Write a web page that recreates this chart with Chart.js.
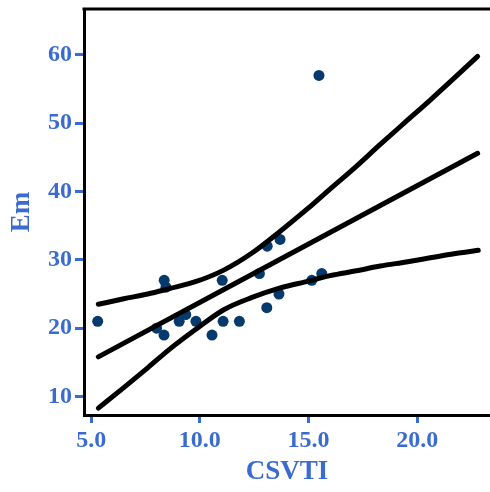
<!DOCTYPE html>
<html>
<head>
<meta charset="utf-8">
<script src="https://cdn.jsdelivr.net/npm/chart.js@4"></script>
<style>
  html, body { margin: 0; padding: 0; background: #fff; }
  #wrap { width: 490px; height: 492px; }
</style>
</head>
<body>
<div id="wrap"><canvas id="emChart" width="490" height="492"></canvas></div>
<script>
// Observed points (CSVTI vs Em)
const csvti = [5.30, 8.36, 8.44, 8.01, 8.35, 9.05, 9.35, 9.82, 10.56, 11.03, 11.07, 11.82, 12.74, 13.08, 13.10, 13.64, 13.69, 15.61, 15.15, 15.48];
const em    = [21,   27,   26,   20,   19,   21,   22,   21,   19,    27,    21,    21,    28,    23,    32,    25,    33,    28,    27,    57];

// Fitted line and confidence band
const fitX   = [5.33, 22.78];
const fitY   = [15.8, 45.6];
const upperX = [5.33, 6.5,  7.6,  8.6,  9.8,  11.1, 12.4, 13.7, 15.0, 16.0, 17.2, 18.3, 19.5, 20.6, 21.7, 22.78];
const upperY = [23.5, 24.3, 25.0, 25.8, 26.8, 28.5, 31.0, 34.2, 37.6, 40.4, 43.7, 46.9, 50.3, 53.4, 56.6, 59.8];
const lowerX = [5.33, 6.5,  7.6,  8.6,  9.8,  11.1, 12.4, 13.7, 15.0, 16.0, 17.2, 18.3, 19.5, 20.6, 21.7, 22.81];
const lowerY = [8.3,  11.3, 14.2, 16.9, 19.8, 22.7, 24.5, 25.9, 26.9, 27.7, 28.4, 29.1, 29.7, 30.3, 30.9, 31.4];

// Tick values
const xTicks = [5, 10, 15, 20];
const yTicks = [10, 20, 30, 40, 50, 60];

const blue = '#3a6bd0';
const fontFam = '"Liberation Serif", "Times New Roman", serif';

function pairs(xs, ys) {
    return xs.map((x, i) => ({ x: x, y: ys[i] }));
}

function lineSet(xs, ys) {
    return {
        type: 'line',
        data: pairs(xs, ys),
        borderColor: '#000',
        borderWidth: 5,
        borderCapStyle: 'round',
        borderJoinStyle: 'round',
        pointRadius: 0,
        cubicInterpolationMode: 'monotone',
        fill: false,
        order: 0
    };
}

// top line of the frame
const topFrame = {
    id: 'topFrame',
    afterDraw(chart) {
        const a = chart.chartArea;
        const c = chart.ctx;
        c.save();
        c.strokeStyle = '#000';
        c.lineWidth = 3;
        c.beginPath();
        c.moveTo(a.left - 1.5, a.top);
        c.lineTo(a.right, a.top);
        c.stroke();
        c.restore();
    }
};

new Chart(document.getElementById('emChart').getContext('2d'), {
    type: 'scatter',
    data: {
        datasets: [
            lineSet(upperX, upperY),
            lineSet(fitX, fitY),
            lineSet(lowerX, lowerY),
            {
                data: pairs(csvti, em),
                backgroundColor: '#063a6c',
                borderWidth: 0,
                pointRadius: 5.5,
                order: 1
            }
        ]
    },
    options: {
        responsive: false,
        animation: false,
        layout: { autoPadding: false, padding: { top: 9, right: 0, left: 0, bottom: 0 } },
        plugins: {
            legend: { display: false },
            tooltip: { enabled: false }
        },
        scales: {
            x: {
                type: 'linear',
                min: 4.67,
                max: 23.35,
                afterBuildTicks: s => { s.ticks = xTicks.map(v => ({ value: v })); },
                afterFit: s => { s.height = 77; s.paddingLeft = 0; s.paddingRight = 0; },
                ticks: {
                    color: blue,
                    padding: 3,
                    font: { family: fontFam, size: 24, weight: 'bold' },
                    callback: v => Number(v).toFixed(1)
                },
                grid: {
                    drawOnChartArea: false,
                    drawTicks: true,
                    tickLength: 8,
                    tickWidth: 3,
                    tickColor: blue
                },
                border: { display: true, color: '#000', width: 3 },
                title: {
                    display: true,
                    text: 'CSVTI',
                    color: blue,
                    padding: { top: 0, bottom: 4 },
                    font: { family: fontFam, size: 27, weight: 'bold' }
                }
            },
            y: {
                type: 'linear',
                min: 7.29,
                max: 66.73,
                afterBuildTicks: s => { s.ticks = yTicks.map(v => ({ value: v })); },
                afterFit: s => { s.width = 84; s.paddingTop = 0; s.paddingBottom = 0; },
                ticks: {
                    color: blue,
                    padding: 3,
                    font: { family: fontFam, size: 24, weight: 'bold' }
                },
                grid: {
                    drawOnChartArea: false,
                    drawTicks: true,
                    tickLength: 9,
                    tickWidth: 3,
                    tickColor: blue
                },
                border: { display: true, color: '#000', width: 3 },
                title: {
                    display: true,
                    text: 'Em',
                    color: blue,
                    padding: { top: 6, bottom: 0 },
                    font: { family: fontFam, size: 27, weight: 'bold' }
                }
            }
        }
    },
    plugins: [topFrame]
});
</script>
</body>
</html>
